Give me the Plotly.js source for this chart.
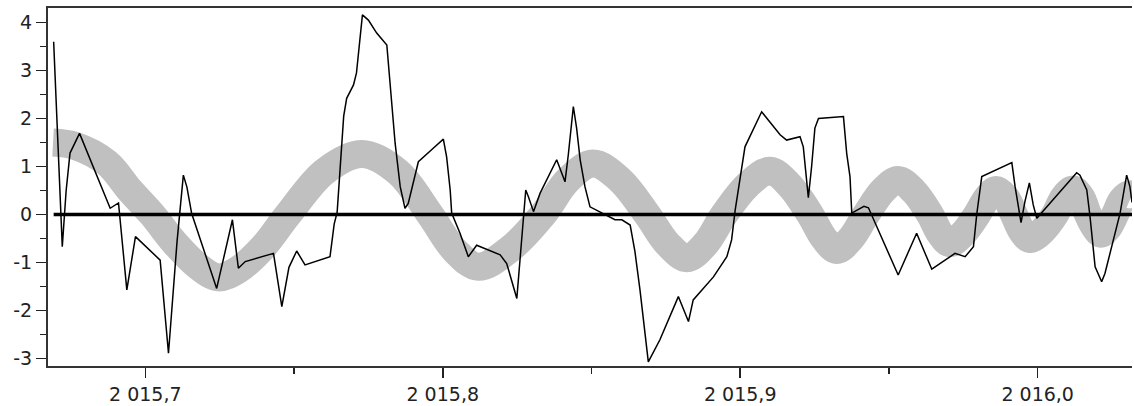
<!DOCTYPE html>
<html>
<head>
<meta charset="utf-8">
<script src="https://cdn.plot.ly/plotly-3.0.1.min.js"></script>
<style>
html,body{margin:0;padding:0;background:#fff;}
#chart{width:1134px;height:406px;}
</style>
</head>
<body>
<div id="chart"></div>
<script>
// Thin black series (date in years, value)
const seriesX = [
2015.6692,2015.6715,2015.6721,2015.6734,2015.6747,2015.6779,2015.6882,2015.6910,2015.6938,2015.6967,
2015.7050,2015.7078,2015.7092,2015.7107,2015.7128,2015.7140,2015.7156,2015.7240,2015.7293,2015.7313,
2015.7336,2015.7431,2015.7459,2015.7483,2015.7509,2015.7537,2015.7621,2015.7635,2015.7645,2015.7667,
2015.7677,2015.7700,2015.7710,2015.7730,2015.7750,2015.7778,2015.7812,2015.7840,2015.7857,2015.7873,
2015.7884,2015.7907,2015.7918,2015.7968,2015.8002,2015.8013,2015.8025,2015.8030,2015.8058,2015.8086,
2015.8114,2015.8193,2015.8215,2015.8249,2015.8260,2015.8271,2015.8279,2015.8288,2015.8305,2015.8327,
2015.8350,2015.8383,2015.8411,2015.8422,2015.8439,2015.8450,2015.8462,2015.8478,2015.8495,2015.8551,
2015.8579,2015.8602,2015.8630,2015.8646,2015.8663,2015.8691,2015.8730,2015.8792,2015.8826,2015.8842,
2015.8910,2015.8955,2015.8971,2015.8983,2015.9005,2015.9016,2015.9072,2015.9134,2015.9156,2015.9201,
2015.9212,2015.9229,2015.9240,2015.9251,2015.9263,2015.9347,2015.9358,2015.9369,2015.9375,2015.9416,
2015.9431,2015.9531,2015.9593,2015.9644,2015.9722,2015.9756,2015.9784,2015.9795,2015.9812,2015.9913,
2015.9924,2015.9944,2015.9957,2015.9972,2015.9985,2015.9997,2016.0131,2016.0142,2016.0165,2016.0176,
2016.0193,2016.0215,2016.0226,2016.0249,2016.0277,2016.0299,2016.0310,2016.0317
];
const seriesY = [
3.60,0.00,-0.67,0.50,1.28,1.69,0.13,0.24,-1.57,-0.46,
-0.95,-2.89,-1.75,-0.55,0.82,0.57,0.02,-1.54,-0.11,-1.12,
-0.98,-0.81,-1.92,-1.10,-0.76,-1.05,-0.88,-0.20,0.05,2.05,
2.42,2.70,2.95,4.16,4.05,3.78,3.53,1.48,0.58,0.13,
0.23,0.79,1.10,1.38,1.57,1.20,0.51,0.03,-0.39,-0.88,
-0.64,-0.84,-1.02,-1.75,-0.95,-0.05,0.51,0.37,0.06,0.44,
0.72,1.14,0.68,1.24,2.25,1.80,1.14,0.58,0.16,-0.01,
-0.11,-0.11,-0.22,-0.77,-1.57,-3.07,-2.61,-1.71,-2.23,-1.78,
-1.30,-0.88,-0.53,0.09,0.93,1.41,2.14,1.66,1.55,1.62,
1.41,0.35,1.00,1.80,2.00,2.04,1.27,0.79,0.03,0.17,
0.14,-1.26,-0.39,-1.14,-0.81,-0.88,-0.67,0.00,0.79,1.08,
0.58,-0.17,0.27,0.66,0.20,-0.08,0.87,0.82,0.51,-0.05,
-1.09,-1.40,-1.23,-0.67,0.03,0.82,0.58,0.25
];

// Thick grey cycle curve
const cycleX = [
2015.6690,2015.6764,2015.6872,2015.6949,2015.7023,2015.7100,2015.7178,2015.7245,2015.7312,2015.7393,
2015.7480,2015.7604,2015.7729,2015.7850,2015.7957,2015.8041,2015.8119,2015.8226,2015.8337,2015.8421,
2015.8505,2015.8596,2015.8687,2015.8757,2015.8821,2015.8882,2015.8946,2015.9026,2015.9100,2015.9167,
2015.9235,2015.9282,2015.9325,2015.9372,2015.9423,2015.9480,2015.9530,2015.9584,2015.9638,2015.9672,
2015.9705,2015.9749,2015.9796,2015.9830,2015.9860,2015.9893,2015.9920,2015.9947,2015.9974,2016.0014,
2016.0058,2016.0088,2016.0119,2016.0146,2016.0169,2016.0193,2016.0213,2016.0236,2016.0260,2016.0283,
2016.0307,2016.0317
];
const cycleY = [
1.50,1.43,1.07,0.50,0.00,-0.60,-1.08,-1.31,-1.15,-0.70,
0.00,0.90,1.26,0.88,0.00,-0.75,-1.09,-0.72,0.00,0.72,
1.06,0.72,0.00,-0.62,-0.91,-0.62,0.00,0.62,0.91,0.60,
0.00,-0.50,-0.74,-0.50,0.00,0.50,0.72,0.48,0.00,-0.40,
-0.60,-0.40,0.00,0.35,0.51,0.35,0.00,-0.35,-0.51,-0.35,
0.00,0.36,0.52,0.36,0.00,-0.28,-0.40,-0.28,0.00,0.30,
0.42,0.41
];

// Axis ticks
const xTickVals = [2015.7, 2015.8, 2015.9, 2016.0];
const xTickText = ["2 015,7", "2 015,8", "2 015,9", "2 016,0"];
const yTickVals = [-3, -2, -1, 0, 1, 2, 3, 4];
const yTickText = ["-3", "-2", "-1", "0", "1", "2", "3", "4"];

const traces = [
  {
    x: cycleX, y: cycleY, type: 'scatter', mode: 'lines',
    line: {color: '#c0c0c0', width: 28, shape: 'spline', smoothing: 1},
    hoverinfo: 'skip'
  },
  {
    x: [seriesX[0], seriesX[seriesX.length - 1]], y: [0, 0],
    type: 'scatter', mode: 'lines',
    line: {color: '#000000', width: 3.5},
    hoverinfo: 'skip'
  },
  {
    x: seriesX, y: seriesY, type: 'scatter', mode: 'lines',
    line: {color: '#000000', width: 1.5},
    hoverinfo: 'skip'
  }
];

const axisFont = {family: 'DejaVu Sans, sans-serif', size: 19, color: '#222'};

const layout = {
  width: 1134, height: 406,
  margin: {l: 48, r: 2, t: 8, b: 40, pad: 0},
  paper_bgcolor: '#ffffff', plot_bgcolor: '#ffffff',
  showlegend: false,
  xaxis: {
    range: [2015.6673, 2016.0317],
    tickmode: 'array', tickvals: xTickVals, ticktext: xTickText,
    ticks: 'outside', ticklen: 10, tickwidth: 1.5, tickcolor: '#222',
    minor: {dtick: 0.05, tick0: 2015.65, ticks: 'outside', ticklen: 6, tickwidth: 1.5, tickcolor: '#222'},
    showgrid: false, zeroline: false,
    showline: true, linecolor: '#333', linewidth: 2, mirror: true,
    tickfont: axisFont
  },
  yaxis: {
    range: [-3.156, 4.302],
    tickmode: 'array', tickvals: yTickVals, ticktext: yTickText,
    ticks: 'outside', ticklen: 10, tickwidth: 1.5, tickcolor: '#222',
    minor: {dtick: 0.5, tick0: 0, ticks: 'outside', ticklen: 6, tickwidth: 1.5, tickcolor: '#222'},
    showgrid: false, zeroline: false,
    showline: true, linecolor: '#333', linewidth: 2,
    tickfont: axisFont
  }
};

Plotly.newPlot('chart', traces, layout, {staticPlot: true, displayModeBar: false});
</script>
</body>
</html>
